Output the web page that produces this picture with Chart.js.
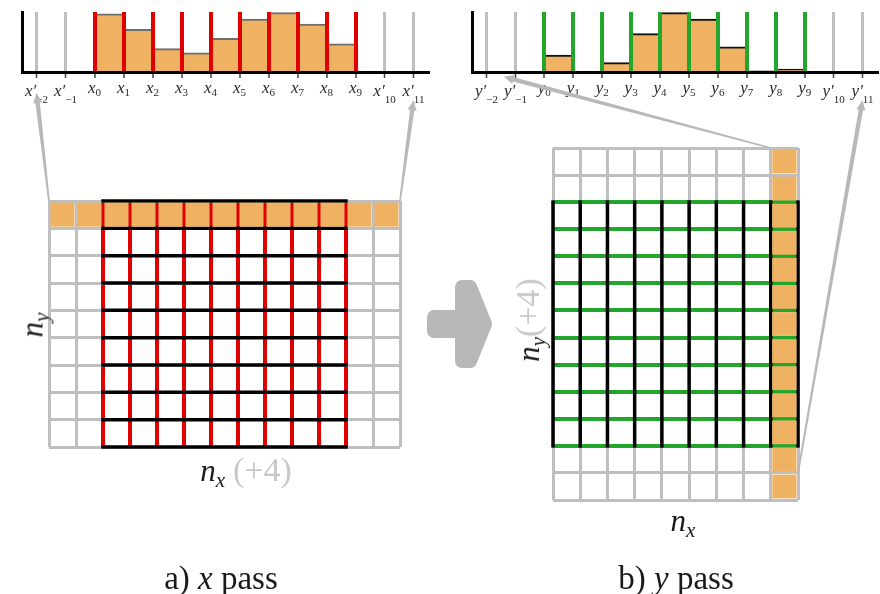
<!DOCTYPE html>
<html>
<head>
<meta charset="utf-8">
<script src="https://cdn.jsdelivr.net/npm/chart.js@4.4.1/dist/chart.umd.min.js"></script>
<style>
  html, body { margin: 0; padding: 0; background: #fff; }
  body { position: relative; width: 880px; height: 594px; overflow: hidden; font-family: "Liberation Serif", serif; color: #1a1a1a; }
  canvas { position: absolute; }
  .lbl { position: absolute; white-space: nowrap; font-size: 31px; line-height: 1; transform: translate(-50%, -50%); }
  .lbl .s { font-size: 0.68em; position: relative; top: 0.3em; }
  .pad { color: #c8c8c8; font-style: normal; font-size: 34px; }
  .cap { font-size: 33px; }
</style>
</head>
<body>
<canvas id="xPassProfile" width="440" height="120" style="left:0;top:0"></canvas>
<canvas id="yPassProfile" width="440" height="120" style="left:440px;top:0"></canvas>
<canvas id="xPassGrid" width="390" height="280" style="left:30px;top:185px"></canvas>
<canvas id="yPassGrid" width="290" height="390" style="left:530px;top:130px"></canvas>
<canvas id="overlay" width="880" height="594" style="left:0;top:0;pointer-events:none"></canvas>

<div class="lbl" style="left:32px;top:325px;transform:translate(-50%,-50%) rotate(-90deg)"><i>n<span class="s">y</span></i></div>
<div class="lbl" style="left:246px;top:470px"><i>n<span class="s">x</span></i> <span class="pad">(+4)</span></div>
<div class="lbl" style="left:528px;top:320px;transform:translate(-50%,-50%) rotate(-90deg)"><i>n<span class="s">y</span></i><span class="pad">(+4)</span></div>
<div class="lbl" style="left:683px;top:520px"><i>n<span class="s">x</span></i></div>
<div class="lbl cap" style="left:221px;top:578px">a) <i>x</i> pass</div>
<div class="lbl cap" style="left:676px;top:578px">b) <i>y</i> pass</div>

<script>
// sample positions of the 1D profiles (two padding samples on each side)
const tickValues = [-2, -1, 0, 1, 2, 3, 4, 5, 6, 7, 8, 9, 10, 11];
const tickSubs = ['\u22122', '\u22121', '0', '1', '2', '3', '4', '5', '6', '7', '8', '9', '10', '11'];
const tickPrimed = [true, true, false, false, false, false, false, false, false, false, false, false, true, true];

// profile heights between consecutive samples (0..1)
const xPassValues = [0.97, 0.71, 0.39, 0.32, 0.56, 0.88, 0.99, 0.80, 0.47];
const yPassValues = [0.28, 0, 0.155, 0.64, 0.99, 0.88, 0.42, 0.02, 0.05];

// grid sizes
const nx = 9, ny = 9, pad = 2;
const xPassRow = 8;   // row being filtered in a)
const yPassCol = 8;   // column being filtered in b)

const ORANGE = '#efb263', GRAY = '#bfbfbf', RED = '#e00000', GREEN = '#23a62b', BLACK = '#000';

const isInner = v => v >= 0 && v <= 9;

// draws x'_-2 ... x_0 ... labels under the profile ticks
const tickLetters = {
  id: 'tickLetters',
  afterDraw(chart, args, opts) {
    const { ctx, chartArea } = chart;
    const xs = chart.scales.x;
    ctx.save();
    ctx.fillStyle = '#2a2a2a';
    ctx.textAlign = 'left';
    ctx.textBaseline = 'alphabetic';
    tickValues.forEach((v, i) => {
      const main = opts.letter + (tickPrimed[i] ? '\u2032' : '');
      ctx.font = 'italic 17px "Liberation Serif"';
      const w1 = ctx.measureText(main).width;
      ctx.font = '11px "Liberation Serif"';
      const w2 = ctx.measureText(tickSubs[i]).width;
      const left = xs.getPixelForValue(v) - (w1 + w2) / 2;
      const base = chartArea.bottom + (tickPrimed[i] ? 24 : 21);
      ctx.font = 'italic 17px "Liberation Serif"';
      ctx.fillText(main, left, base);
      ctx.font = '11px "Liberation Serif"';
      ctx.fillText(tickSubs[i], left + w1, base + (tickPrimed[i] ? 7 : 3));
    });
    ctx.restore();
  }
};

function profileChart(id, values, passColor, capColor, letter, padLeft, padRight) {
  return new Chart(document.getElementById(id), {
    type: 'bar',
    data: {
      datasets: [{
        data: values.map((v, i) => ({ x: i + 0.5, y: v })),
        backgroundColor: ORANGE,
        borderColor: capColor,
        borderWidth: { top: 2, right: 0, bottom: 0, left: 0 },
        barPercentage: 1,
        categoryPercentage: 1
      }]
    },
    options: {
      responsive: false,
      animation: false,
      events: [],
      layout: { padding: { left: padLeft, right: padRight, top: 12, bottom: 48 } },
      plugins: { legend: { display: false }, tooltip: { enabled: false }, tickLetters: { letter } },
      scales: {
        x: {
          type: 'linear', min: -2.5, max: 11.5, offset: false,
          afterBuildTicks: s => { s.ticks = tickValues.map(v => ({ value: v })); },
          afterFit: s => { s.height = 0; },
          ticks: { display: false },
          grid: {
            z: 1, offset: false,
            color: c => isInner(c.tick.value) ? passColor : GRAY,
            lineWidth: c => isInner(c.tick.value) ? 4 : 3,
            tickLength: 6, tickColor: '#444', tickWidth: 1.5
          },
          border: { display: true, color: BLACK, width: 3, z: 1 }
        },
        y: {
          min: 0, max: 1,
          afterFit: s => { s.width = 0; },
          ticks: { display: false },
          grid: { display: false },
          border: { display: true, color: BLACK, width: 3, z: 1 }
        }
      }
    },
    plugins: [tickLetters]
  });
}

function gridChart(id, cols, rows, cells, segments, xColor, yColor, padding) {
  const datasets = [{
    type: 'bar',
    data: cells.map(([c, r]) => ({ x: c + 0.5, y: [r + 0.06, r + 0.94] })),
    backgroundColor: ORANGE,
    borderWidth: 0,
    barPercentage: 0.89,
    categoryPercentage: 1
  }];
  segments.forEach(seg => datasets.push({
    type: 'line', data: seg, borderColor: BLACK, borderWidth: 3.5,
    pointRadius: 0, borderCapStyle: 'square', clip: false
  }));
  const axis = (max, colorFn) => ({
    type: 'linear', min: 0, max, offset: false,
    afterBuildTicks: s => { s.ticks = Array.from({ length: max + 1 }, (_, v) => ({ value: v })); },
    ticks: { display: false },
    grid: {
      offset: false, drawTicks: false,
      color: c => colorFn(c.tick.value),
      lineWidth: c => colorFn(c.tick.value) === GRAY ? 3 : 4
    },
    border: { display: false }
  });
  const xAxis = axis(cols, xColor), yAxis = axis(rows, yColor);
  xAxis.afterFit = s => { s.height = 0; };
  yAxis.afterFit = s => { s.width = 0; };
  return new Chart(document.getElementById(id), {
    type: 'bar',
    data: { datasets },
    options: {
      responsive: false,
      animation: false,
      events: [],
      layout: { padding },
      plugins: { legend: { display: false }, tooltip: { enabled: false } },
      scales: { x: xAxis, y: yAxis }
    }
  });
}

const xProfile = profileChart('xPassProfile', xPassValues, RED, '#6e6e6e', 'x', 22, 12);
const yProfile = profileChart('yPassProfile', yPassValues, GREEN, '#111', 'y', 32, 3);

// a) padded in x: (nx + 2 pad) columns, ny rows, one row highlighted
const xCells = Array.from({ length: nx + 2 * pad }, (_, c) => [c, xPassRow]);
const xSegments = Array.from({ length: ny + 1 }, (_, j) => [{ x: pad, y: j }, { x: pad + nx, y: j }]);
const xGrid = gridChart('xPassGrid', nx + 2 * pad, ny, xCells, xSegments,
  v => (v >= pad && v <= pad + nx) ? RED : GRAY, () => GRAY,
  { left: 19, right: 20, top: 16, bottom: 18 });

// b) padded in y: nx columns, (ny + 2 pad) rows, one column highlighted
const yCells = Array.from({ length: ny + 2 * pad }, (_, r) => [yPassCol, r]);
const ySegments = Array.from({ length: nx + 1 }, (_, i) => [{ x: i, y: pad }, { x: i, y: pad + ny }]);
const yGrid = gridChart('yPassGrid', nx, ny + 2 * pad, yCells, ySegments,
  () => GRAY, v => (v >= pad && v <= pad + ny) ? GREEN : GRAY,
  { left: 23, right: 22, top: 18, bottom: 20 });

// connectors and the big arrow, placed from the charts' own scales
function pageXY(chart, xv, yv) {
  const c = chart.canvas;
  return [c.offsetLeft + chart.scales.x.getPixelForValue(xv), c.offsetTop + chart.scales.y.getPixelForValue(yv)];
}

function taperArrow(ctx, from, to) {
  const dx = to[0] - from[0], dy = to[1] - from[1], len = Math.hypot(dx, dy);
  const ux = dx / len, uy = dy / len, px = -uy, py = ux;
  const head = 10, hw = 4.5, tw = 0.9, bw = 2.2;
  const hx = to[0] - ux * head, hy = to[1] - uy * head;
  ctx.beginPath();
  ctx.moveTo(from[0] + px * tw, from[1] + py * tw);
  ctx.lineTo(hx + px * bw, hy + py * bw);
  ctx.lineTo(hx + px * hw, hy + py * hw);
  ctx.lineTo(to[0], to[1]);
  ctx.lineTo(hx - px * hw, hy - py * hw);
  ctx.lineTo(hx - px * bw, hy - py * bw);
  ctx.lineTo(from[0] - px * tw, from[1] - py * tw);
  ctx.closePath();
  ctx.fill();
}

const octx = document.getElementById('overlay').getContext('2d');
octx.fillStyle = '#b8b8b8';
octx.strokeStyle = '#b8b8b8';
taperArrow(octx, pageXY(xGrid, 0, ny), pageXY(xProfile, -2, -0.35));
taperArrow(octx, pageXY(xGrid, nx + 2 * pad, ny), pageXY(xProfile, 11, -0.47));
taperArrow(octx, pageXY(yGrid, yPassCol, ny + 2 * pad), pageXY(yProfile, -1.4, -0.08));
taperArrow(octx, pageXY(yGrid, nx, 1), pageXY(yProfile, 11, -0.47));

const [gx, gy] = pageXY(xGrid, nx + 2 * pad, ny / 2);
const s = gx + 27, m = gy;
octx.lineJoin = 'round';
octx.lineWidth = 14;
octx.beginPath();
[[7, -7], [35, -7], [35, -37], [43, -37], [58, 0], [43, 37], [35, 37], [35, 7], [7, 7]]
  .forEach(([ax, ay], k) => k ? octx.lineTo(s + ax, m + ay) : octx.moveTo(s + ax, m + ay));
octx.closePath();
octx.fill();
octx.stroke();
</script>
</body>
</html>
